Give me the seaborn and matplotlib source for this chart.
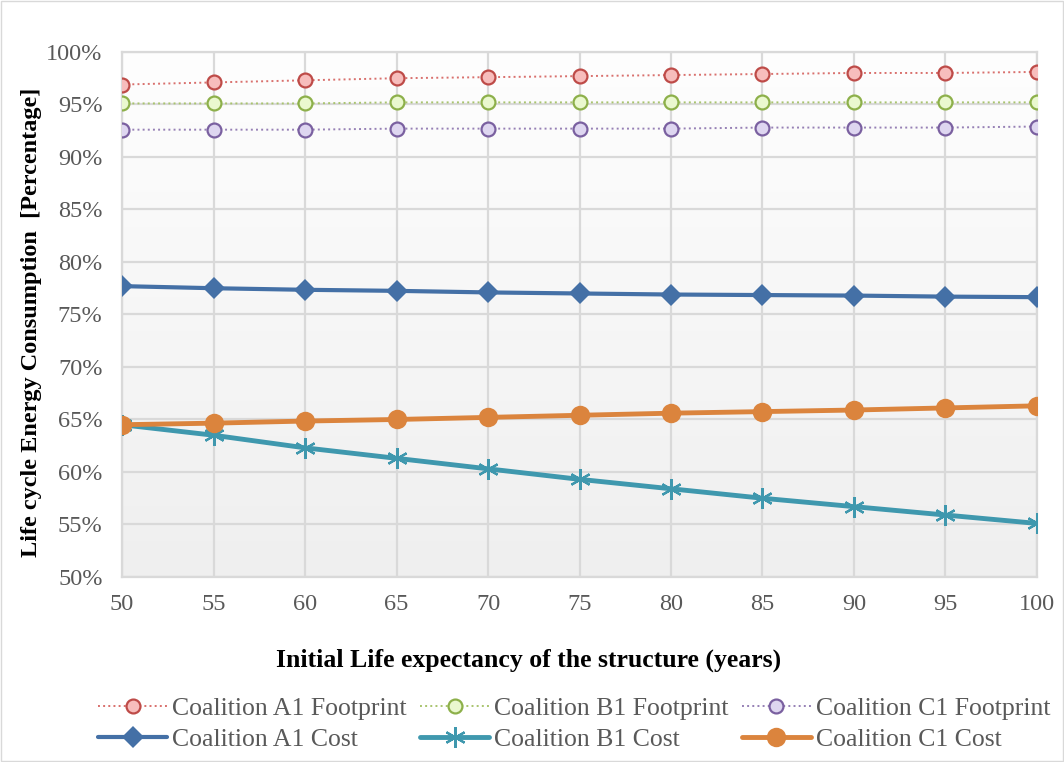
import numpy as np
import pandas as pd
import matplotlib
matplotlib.use("Agg")
import matplotlib.pyplot as plt
import seaborn as sns
from matplotlib.patches import Rectangle

# --- Data ---
years = [50, 55, 60, 65, 70, 75, 80, 85, 90, 95, 100]
a1_footprint = [96.9, 97.1, 97.3, 97.5, 97.6, 97.7, 97.8, 97.9, 98.0, 98.0, 98.1]
b1_footprint = [95.1, 95.1, 95.1, 95.2, 95.2, 95.2, 95.2, 95.2, 95.2, 95.2, 95.2]
c1_footprint = [92.6, 92.6, 92.6, 92.7, 92.7, 92.7, 92.7, 92.8, 92.8, 92.8, 92.9]
a1_cost = [77.7, 77.5, 77.35, 77.25, 77.1, 77.0, 76.9, 76.85, 76.8, 76.7, 76.65]
b1_cost = [64.5, 63.5, 62.3, 61.3, 60.3, 59.3, 58.4, 57.5, 56.7, 55.9, 55.1]
c1_cost = [64.5, 64.65, 64.85, 65.0, 65.2, 65.4, 65.6, 65.75, 65.9, 66.1, 66.3]

sns.set_theme(style="white")
plt.rcParams['font.family'] = ['Liberation Serif', 'DejaVu Serif']

fig = plt.figure(figsize=(10.64, 7.62), dpi=100)
ax = fig.add_axes([0.1147, 0.2428, 0.8599, 0.689])

# light vertical gradient behind the plot area
grad = np.linspace(0, 1, 256).reshape(-1, 1)
ax.imshow(grad, cmap=matplotlib.colors.LinearSegmentedColormap.from_list(
    "bg", ["#FEFEFE", "#EFEFEF"]), aspect='auto', extent=[0, 1, 0, 1],
    transform=ax.transAxes, zorder=0, origin='upper')

foot_style = dict(linestyle=':', linewidth=1.4, marker='o', markersize=10,
                  markeredgewidth=1.6)
sns.lineplot(x=years, y=a1_footprint, ax=ax, color='#D9706D', label='Coalition A1 Footprint',
             markerfacecolor='#F7BDBC', markeredgecolor='#BE4B48', zorder=4, **foot_style)
sns.lineplot(x=years, y=b1_footprint, ax=ax, color='#A9C46E', label='Coalition B1 Footprint',
             markerfacecolor='#EAF8CF', markeredgecolor='#8DB04A', zorder=4, **foot_style)
sns.lineplot(x=years, y=c1_footprint, ax=ax, color='#9680B5', label='Coalition C1 Footprint',
             markerfacecolor='#DED6F0', markeredgecolor='#7A60A0', zorder=4, **foot_style)

sns.lineplot(x=years, y=a1_cost, ax=ax, color='#4470A6', linewidth=3, marker='D',
             markersize=11, markeredgewidth=0, label='Coalition A1 Cost', zorder=5)
sns.lineplot(x=years, y=b1_cost, ax=ax, color='#3F98AE', linewidth=3.5, marker=(6, 2, 0),
             markersize=15, markeredgewidth=1.6, markeredgecolor='#3F98AE',
             label='Coalition B1 Cost', zorder=5)
sns.lineplot(x=years, y=c1_cost, ax=ax, color='#DB843D', linewidth=3.5, marker='o',
             markersize=14, markeredgewidth=0, label='Coalition C1 Cost', zorder=6)

ax.set_xlim(50, 100)
ax.set_ylim(50, 100)
ax.set_xticks(years)
ax.set_yticks(range(50, 101, 5))
ax.set_yticklabels([f"{v}%" for v in range(50, 101, 5)])
ax.grid(True, color='#D9D9D9', linewidth=1.6, zorder=1)
ax.set_axisbelow(True)
for s in ax.spines.values():
    s.set_color('#D9D9D9')
    s.set_linewidth(1.6)
ax.tick_params(axis='both', labelsize=17.5, labelcolor='#595959', length=0)
ax.tick_params(axis='y', pad=14)
ax.tick_params(axis='x', pad=12)

# x label is centred on the figure, not on the axes
fig.text(0.497, 0.134, "Initial Life expectancy of the structure (years)", fontsize=18.5,
         fontweight='bold', color='black', ha='center', va='center')
ax.set_ylabel("Life cycle Energy Consumption  [Percentage]", fontsize=17.5,
              fontweight='bold', color='black')
ax.yaxis.set_label_coords(-0.087, 0.485)

# legend: footprints on first row, costs on second row
h, l = ax.get_legend_handles_labels()
ax.get_legend().remove()
order = [0, 3, 1, 4, 2, 5]
fig.legend([h[i] for i in order], [l[i] for i in order], ncol=3, frameon=False,
           loc='upper left', bbox_to_anchor=(0.092, 0.085), fontsize=18.5,
           labelcolor='#595959', handlelength=2.7, handletextpad=0.2,
           columnspacing=0.5, labelspacing=0.3, borderaxespad=0, borderpad=0)

fig.patches.append(Rectangle((0.001, 0.001), 0.998, 0.998, transform=fig.transFigure,
                             fill=False, edgecolor='#D9D9D9', linewidth=1))

fig.savefig("out.png", dpi=100)
